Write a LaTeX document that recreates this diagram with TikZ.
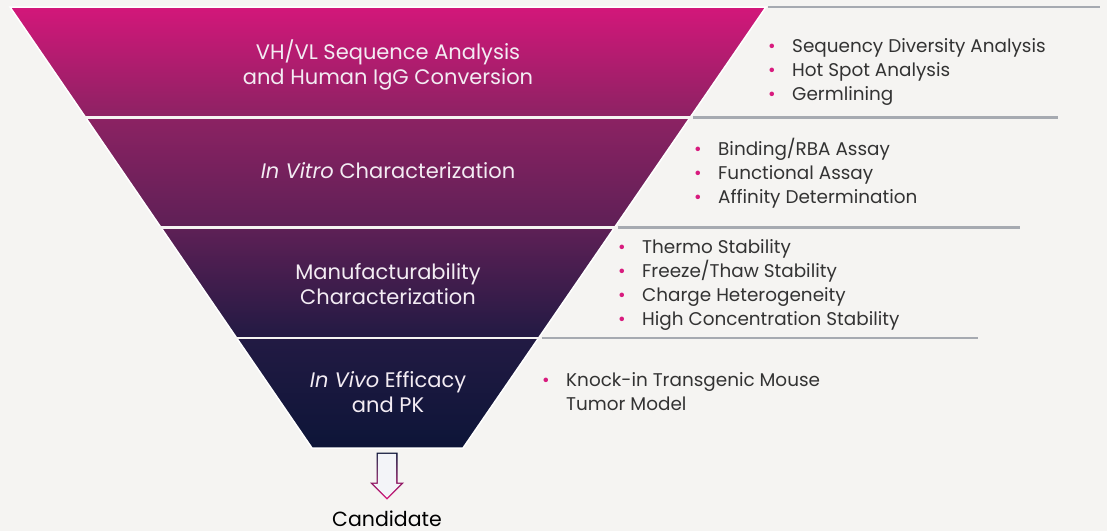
\documentclass[tikz,border=0pt]{standalone}
\usepackage{fontspec}
\setmainfont{Poppins}
\usetikzlibrary{calc}

\definecolor{paper}{HTML}{F5F4F2}
\definecolor{rule}{HTML}{A6AAB1}
\definecolor{ink}{HTML}{333333}
\definecolor{dot}{HTML}{D81B7E}
\definecolor{label}{HTML}{F3ECF3}
\definecolor{arrowfill}{HTML}{F3F4F8}
\definecolor{tone0}{HTML}{D3177A}
\definecolor{tone1}{HTML}{8C2263}
\definecolor{tone2}{HTML}{5E2056}
\definecolor{tone3}{HTML}{221A43}
\definecolor{tone4}{HTML}{0D1538}

\pgfdeclareverticalshading{funnelshade}{100bp}{color(0bp)=(tone4); color(25bp)=(tone4); color(37.5bp)=(tone3); color(50bp)=(tone2); color(62.5bp)=(tone1); color(75bp)=(tone0); color(100bp)=(tone0)}
\pgfdeclareverticalshading{arrowshade}{100bp}{color(0bp)=(dot); color(25bp)=(dot); color(75bp)=(tone4); color(100bp)=(tone4)}

\newcommand{\bul}{\makebox[24pt][l]{\textcolor{dot}{\textbullet}}}
\newcommand{\nobul}{\makebox[24pt][l]{}}

\begin{document}
\begin{tikzpicture}[
    x=1pt, y=-1pt,
    stage/.style={text=label, font=\fontsize{21}{25}\selectfont, inner sep=0pt, anchor=base},
    items/.style={text=ink, font=\fontsize{18.4}{24}\selectfont, inner sep=0pt, anchor=base west},
    guide/.style={draw=rule, line width=2.5pt},
    split/.style={draw=paper, line width=2.5pt}
]
  \useasboundingbox[fill=paper] (0,0) rectangle (1107,531);

  % Funnel corners and band edges
  \coordinate (tl) at (10,7);
  \coordinate (tr) at (766,7);
  \coordinate (bl) at (312,448);
  \coordinate (br) at (463,448);
  \coordinate (l1) at ($(tl)!0.25!(bl)$);
  \coordinate (r1) at ($(tr)!0.25!(br)$);
  \coordinate (l2) at ($(tl)!0.5!(bl)$);
  \coordinate (r2) at ($(tr)!0.5!(br)$);
  \coordinate (l3) at ($(tl)!0.75!(bl)$);
  \coordinate (r3) at ($(tr)!0.75!(br)$);

  \shade[shading=funnelshade, draw=white, line width=1.5pt] (tl) -- (tr) -- (br) -- (bl) -- cycle;
  \draw[split] ($(l1)+(-3,0)$) -- ($(r1)+(3,0)$);
  \draw[split] ($(l2)+(-3,0)$) -- ($(r2)+(3,0)$);
  \draw[split] ($(l3)+(-3,0)$) -- ($(r3)+(3,0)$);

  % Guide lines to the right
  \coordinate (e0) at (1100,7);
  \coordinate (e1) at ($(r1)+(368,0)$);
  \coordinate (e2) at ($(r2)+(405,0)$);
  \coordinate (e3) at ($(r3)+(439,0)$);
  \draw[guide] ($(tr)+(2,0)$) -- (e0);
  \draw[guide] ($(r1)+(3,0)$) -- (e1);
  \draw[guide] ($(r2)+(3,0)$) -- (e2);
  \draw[guide] ($(r3)+(3,0)$) -- (e3);

  % Stage labels
  \node[stage] (stage1) at (388,59) {\begin{tabular}[t]{@{}c@{}}VH/VL Sequence Analysis\\ and Human IgG Conversion\end{tabular}};
  \node[stage] (stage2) at (388,178) {\textit{In Vitro} Characterization};
  \node[stage] (stage3) at (388,279) {\begin{tabular}[t]{@{}c@{}}Manufacturability\\ Characterization\end{tabular}};
  \node[stage] (stage4) at (388,387) {\begin{tabular}[t]{@{}c@{}}\textit{In Vivo} Efficacy\\ and PK\end{tabular}};

  % Item lists
  \node[items] (list1) at (768,52) {\begin{tabular}[t]{@{}l@{}}\bul Sequency Diversity Analysis\\ \bul Hot Spot Analysis\\ \bul Germlining\end{tabular}};
  \node[items] (list2) at (694,155) {\begin{tabular}[t]{@{}l@{}}\bul Binding/RBA Assay\\ \bul Functional Assay\\ \bul Affinity Determination\end{tabular}};
  \node[items] (list3) at (618,253) {\begin{tabular}[t]{@{}l@{}}\bul Thermo Stability\\ \bul Freeze/Thaw Stability\\ \bul Charge Heterogeneity\\ \bul High Concentration Stability\end{tabular}};
  \node[items] (list4) at (542,386) {\begin{tabular}[t]{@{}l@{}}\bul Knock-in Transgenic Mouse\\ \nobul Tumor Model\end{tabular}};

  % Outcome
  \shade[shading=arrowshade] (376.5,452.5) -- (397.5,452.5) -- (397.5,482.5) -- (404,482.5) -- (387,499.5) -- (370,482.5) -- (376.5,482.5) -- cycle;
  \fill[arrowfill] (377.8,453.8) -- (396.2,453.8) -- (396.2,483.8) -- (400.8,483.8) -- (387,497.6) -- (373.2,483.8) -- (377.8,483.8) -- cycle;
  \node[font=\fontsize{20.5}{24}\selectfont, text=black, inner sep=0pt, anchor=base] (cand) at (387,526) {Candidate};
\end{tikzpicture}
\end{document}
